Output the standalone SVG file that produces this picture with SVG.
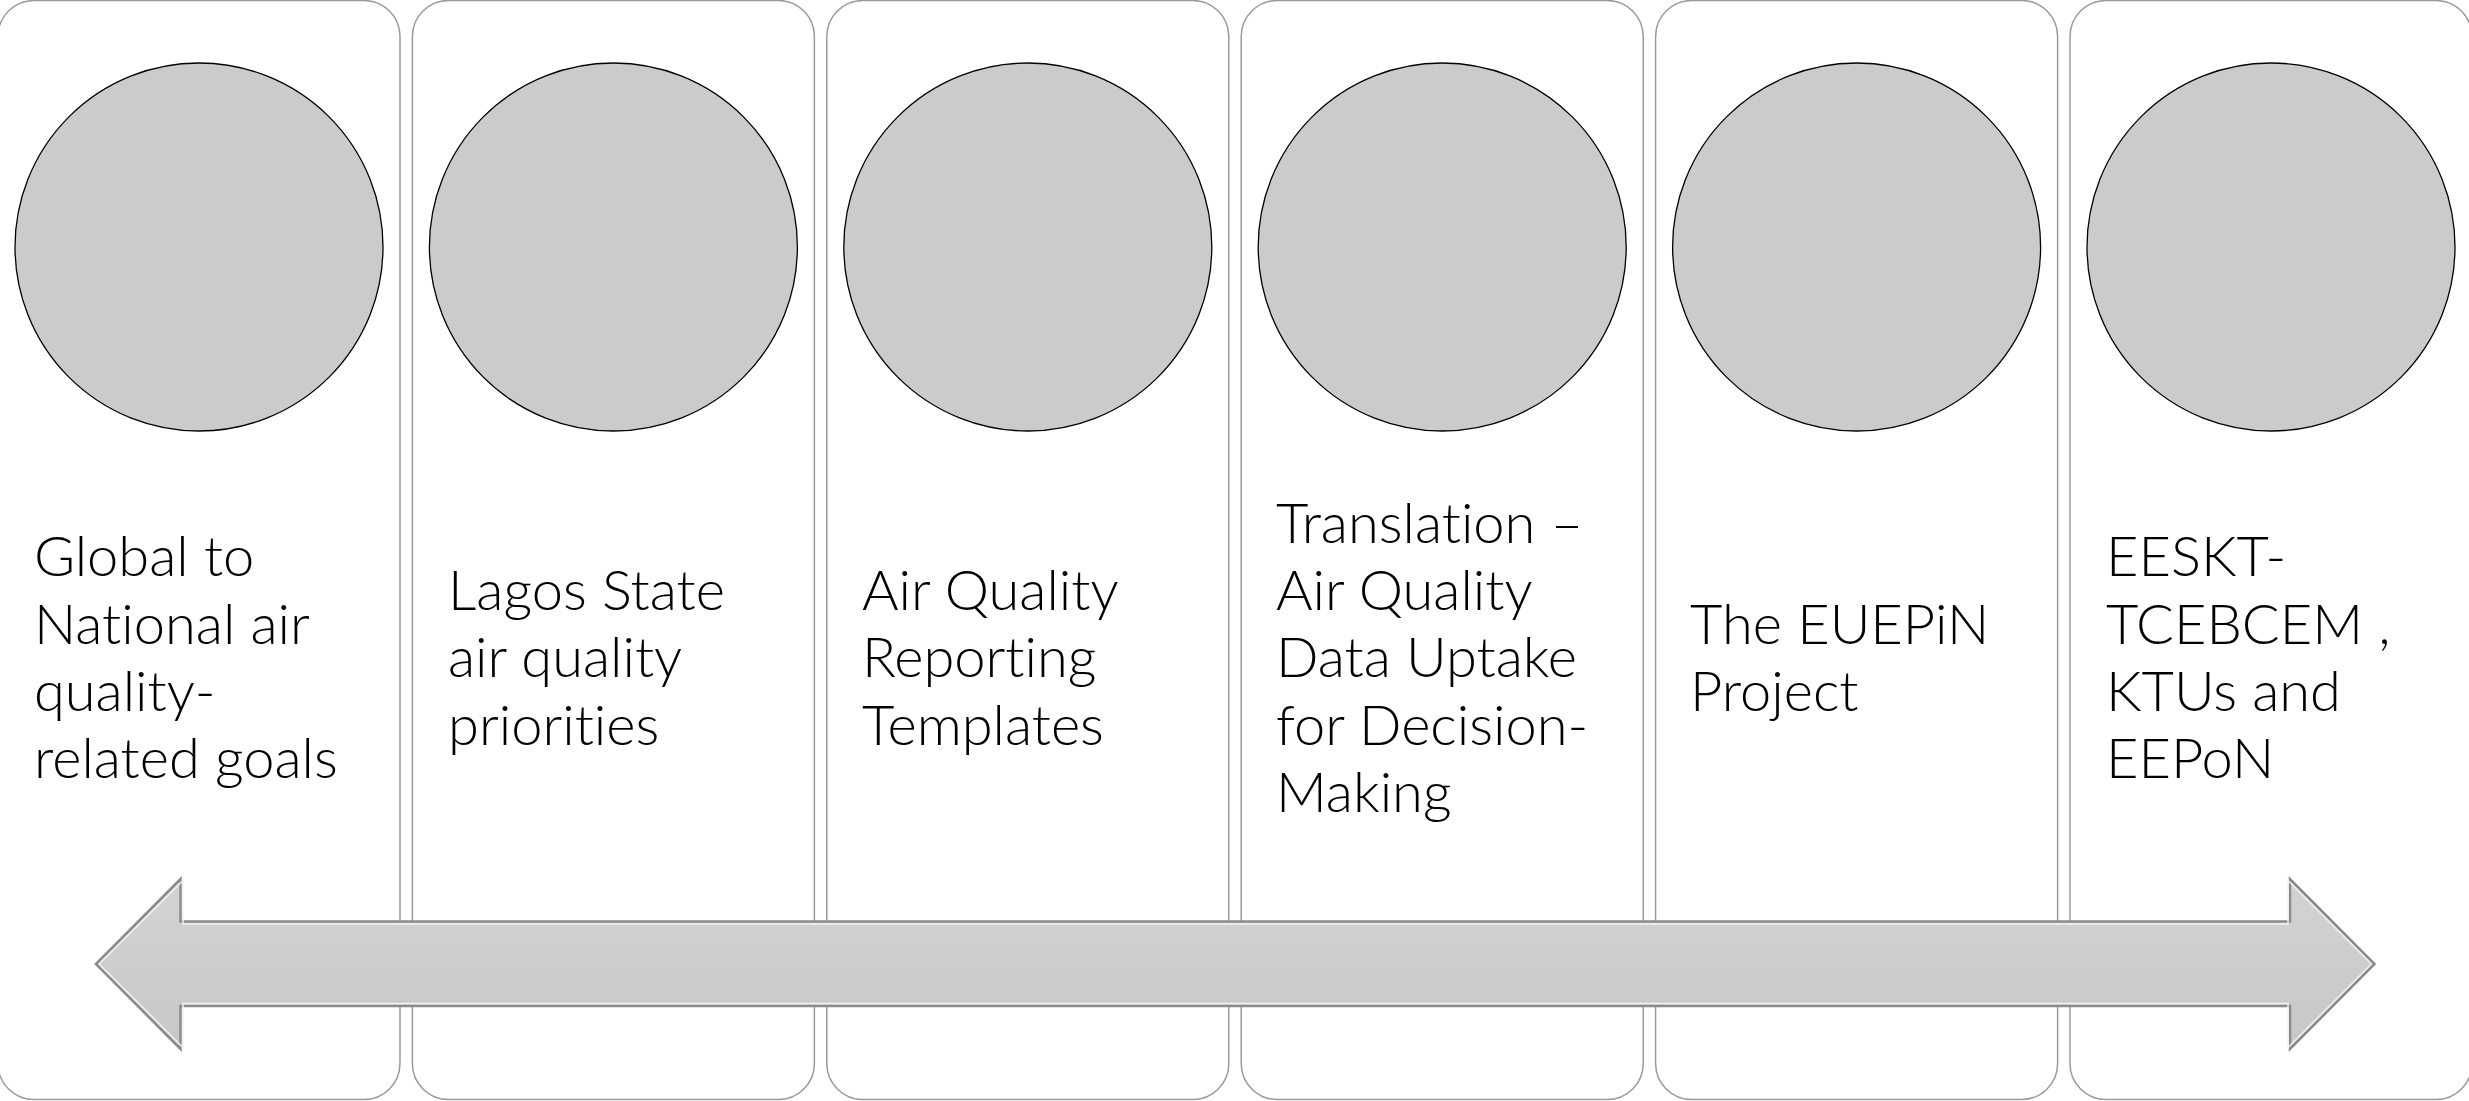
<svg xmlns="http://www.w3.org/2000/svg" width="2469" height="1101" viewBox="0 0 2469 1101">
<style>
.panel{fill:#ffffff;stroke:#9a9a9a;stroke-width:1.5}
.disc{fill:#cbcbcb;stroke:#000000;stroke-width:1.3}
.lbl{font-family:Lato,"Liberation Sans",sans-serif;font-size:56px;font-weight:300;fill:#000000;font-variant-ligatures:none;font-feature-settings:"liga" 0}
</style>
<defs>
<linearGradient id="ag" x1="0" y1="0" x2="0" y2="1">
<stop offset="0" stop-color="#d3d3d3"/>
<stop offset="1" stop-color="#c7c7c7"/>
</linearGradient>
</defs>
<rect width="2469" height="1101" fill="#ffffff"/>
<g id="node1">
<rect class="panel" x="-2" y="0.5" width="402" height="1099" rx="36"/>
<circle class="disc" cx="199" cy="247" r="184"/>
<text class="lbl" x="34" y="576">Global to</text>
<text class="lbl" x="34" y="644">National air</text>
<text class="lbl" x="34" y="711">quality-</text>
<text class="lbl" x="34" y="778">related goals</text>
</g>
<g id="node2">
<rect class="panel" x="412.4" y="0.5" width="402" height="1099" rx="36"/>
<circle class="disc" cx="613.4" cy="247" r="184"/>
<text class="lbl" x="448" y="610">Lagos State</text>
<text class="lbl" x="448" y="677">air quality</text>
<text class="lbl" x="448" y="745">priorities</text>
</g>
<g id="node3">
<rect class="panel" x="826.8" y="0.5" width="402" height="1099" rx="36"/>
<circle class="disc" cx="1027.8" cy="247" r="184"/>
<text class="lbl" x="862" y="610">Air Quality</text>
<text class="lbl" x="862" y="677">Reporting</text>
<text class="lbl" x="862" y="745">Templates</text>
</g>
<g id="node4">
<rect class="panel" x="1241.2" y="0.5" width="402" height="1099" rx="36"/>
<circle class="disc" cx="1442.2" cy="247" r="184"/>
<text class="lbl" x="1276" y="543">Translation –</text>
<text class="lbl" x="1276" y="610">Air Quality</text>
<text class="lbl" x="1276" y="677">Data Uptake</text>
<text class="lbl" x="1276" y="745">for Decision-</text>
<text class="lbl" x="1276" y="812">Making</text>
</g>
<g id="node5">
<rect class="panel" x="1655.6" y="0.5" width="402" height="1099" rx="36"/>
<circle class="disc" cx="1856.6" cy="247" r="184"/>
<text class="lbl" x="1690" y="644">The EUEPiN</text>
<text class="lbl" x="1690" y="711">Project</text>
</g>
<g id="node6">
<rect class="panel" x="2070" y="0.5" width="402" height="1099" rx="36"/>
<circle class="disc" cx="2271" cy="247" r="184"/>
<text class="lbl" x="2106" y="576">EESKT-</text>
<text class="lbl" x="2106" y="644">TCEBCEM ,</text>
<text class="lbl" x="2106" y="711">KTUs and</text>
<text class="lbl" x="2106" y="778">EEPoN</text>
</g>
<g id="connectors">
<path d="M96,964 L180.5,879 L180.5,921.5 L2290,921.5 L2290,879 L2374.5,964 L2290,1049 L2290,1006 L180.5,1006 L180.5,1049 Z" fill="url(#ag)" stroke="#8a8a8a" stroke-width="2.5" stroke-linejoin="miter"/>
<path d="M99,964 L183,880.5 L183,924 L2288,924 L2288,880.5 L2371.5,964 L2288,1047.5 L2288,1003.5 L183,1003.5 L183,1047.5 Z" fill="none" stroke="#f2f2f2" stroke-width="1.5"/>
</g>
</svg>
